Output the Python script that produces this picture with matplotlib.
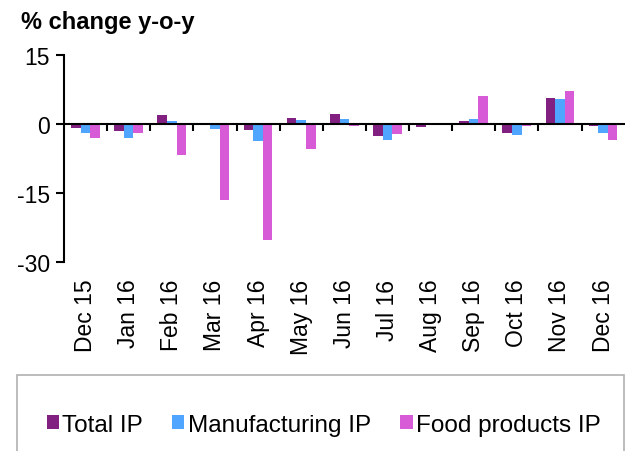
import matplotlib.pyplot as plt
import numpy as np
from matplotlib.patches import Rectangle

months = ['Dec 15', 'Jan 16', 'Feb 16', 'Mar 16', 'Apr 16', 'May 16', 'Jun 16',
          'Jul 16', 'Aug 16', 'Sep 16', 'Oct 16', 'Nov 16', 'Dec 16']
total_ip = [-0.9, -1.6, 2.0, 0.2, -1.4, 1.3, 2.2, -2.5, -0.7, 0.7, -1.9, 5.6, -0.4]
manufacturing_ip = [-2.0, -3.0, 0.7, -1.0, -3.6, 0.8, 1.0, -3.5, -0.2, 1.0, -2.4, 5.4, -2.0]
food_ip = [-3.1, -1.9, -6.7, -16.6, -25.3, -5.5, -0.4, -2.1, -0.2, 6.1, -0.5, 7.1, -3.5]

series = [('Total IP', total_ip, '#822082'),
          ('Manufacturing IP', manufacturing_ip, '#4fa5ff'),
          ('Food products IP', food_ip, '#d75bd7')]

plt.rcParams['font.family'] = ['Liberation Sans', 'DejaVu Sans']
fs = 16.5

fig = plt.figure(figsize=(6.25, 4.52), dpi=100)
ax = fig.add_axes([0.1024, 0.418, 0.897, 0.458])

x = np.arange(len(months))
w = 0.223
for k, (name, vals, col) in enumerate(series):
    ax.bar(x + (k - 1) * w, vals, width=w, color=col, label=name, zorder=2)

# zero line with short separators between months
ax.axhline(0, color='black', lw=1.5, zorder=3)
ax.vlines(x[:-1] + 0.5, -1.5, 0, color='black', lw=1.5, zorder=3)

ax.set_xlim(-0.5, len(months) - 0.5)
ax.set_ylim(-30, 15)
ax.set_yticks([15, 0, -15, -30])
ax.set_yticklabels(['15', '0', '-15', '-30'], fontsize=fs)
ax.set_xticks(x)
ax.set_xticklabels(months, rotation=90, fontsize=fs)
ax.tick_params(axis='x', length=0, pad=12)
ax.tick_params(axis='y', length=6, width=1.5, direction='out', pad=4)
for s in ['top', 'right', 'bottom']:
    ax.spines[s].set_visible(False)
ax.spines['left'].set_linewidth(1.5)

fig.text(0.034, 0.951, '% change y-o-y', fontsize=17, fontweight='bold', va='center')

# legend panel
fig.patches.append(Rectangle((0.027, -0.05), 0.971, 0.218, transform=fig.transFigure,
                             facecolor='white', edgecolor='#b0b0b0', lw=1.2))
handles, labels = ax.get_legend_handles_labels()
fig.legend(handles, labels, loc='center', bbox_to_anchor=(0.518, 0.0575), ncol=3,
           frameon=False, fontsize=17.5, handlelength=0.5, handleheight=0.5,
           handletextpad=0.15, columnspacing=1.2)

fig.savefig('out.png', dpi=100)
